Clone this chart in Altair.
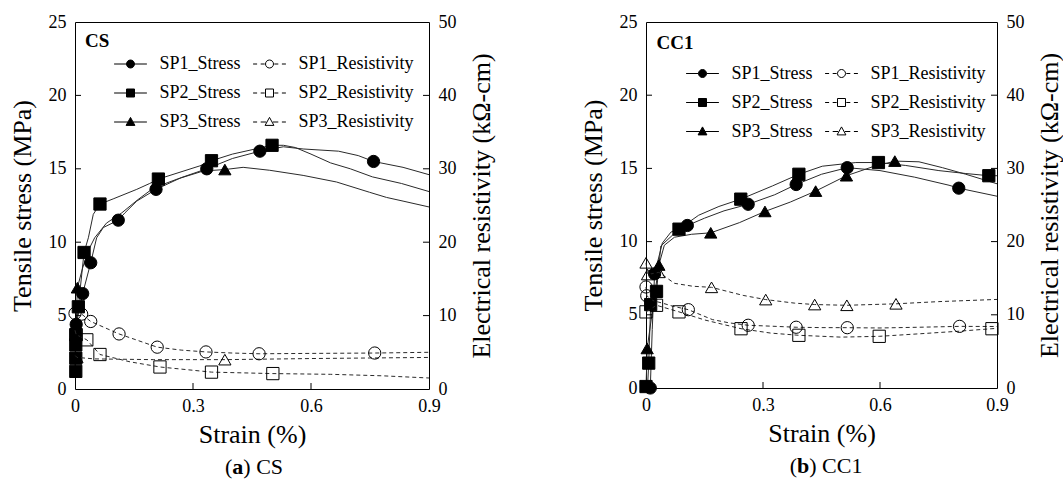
import altair as alt
import pandas as pd

FONT = "Liberation Serif"

# ---------------- axis ticks ----------------
strain_ticks = [0, 0.3, 0.6, 0.9]
stress_ticks = [0, 5, 10, 15, 20, 25]
res_ticks = [0, 10, 20, 30, 40, 50]
inner_strain_ticks = [0.3, 0.6]
inner_stress_ticks = [5, 10, 15, 20]
inner_res_ticks = [10, 20, 30, 40]

# legend entries (column-major: stress column, then resistivity column)
series_names = ["SP1_Stress", "SP2_Stress", "SP3_Stress",
                "SP1_Resistivity", "SP2_Resistivity", "SP3_Resistivity"]

# ---------------- panel (a) CS ----------------
cs_sp1_stress_x = [0, 0.003, 0.0195, 0.040, 0.055, 0.072, 0.110, 0.127, 0.157, 0.206, 0.27, 0.335, 0.40, 0.47, 0.53, 0.58, 0.67, 0.72, 0.759, 0.834, 0.9]
cs_sp1_stress_y = [1.0, 4.4, 6.5, 8.6, 10.3, 11.0, 11.5, 12.0, 12.8, 13.6, 14.4, 15.0, 15.7, 16.2, 16.5, 16.35, 16.2, 15.9, 15.5, 15.1, 14.6]
cs_sp1_stress_mx = [0.003, 0.0195, 0.040, 0.110, 0.206, 0.335, 0.47, 0.759]
cs_sp1_stress_my = [4.4, 6.5, 8.6, 11.5, 13.6, 15.0, 16.2, 15.5]

cs_sp2_stress_x = [0, 0.001, 0.002, 0.0085, 0.023, 0.034, 0.0465, 0.0635, 0.097, 0.157, 0.19, 0.212, 0.3175, 0.347, 0.40, 0.45, 0.501, 0.53, 0.56, 0.60, 0.65, 0.70, 0.756, 0.83, 0.9]
cs_sp2_stress_y = [1.0, 2.2, 4.0, 5.6, 9.3, 10.3, 11.9, 12.6, 12.95, 13.6, 14.0, 14.3, 15.2, 15.55, 16.0, 16.3, 16.6, 16.6, 16.45, 16.0, 15.4, 15.0, 14.45, 14.0, 13.45]
cs_sp2_stress_mx = [0.002, 0.002, 0.002, 0.002, 0.0085, 0.023, 0.0635, 0.212, 0.347, 0.501]
cs_sp2_stress_my = [1.2, 2.1, 3.0, 3.7, 5.6, 9.3, 12.6, 14.3, 15.55, 16.6]

cs_sp3_stress_x = [0, 0.006, 0.02, 0.035, 0.05, 0.08, 0.119, 0.16, 0.2, 0.26, 0.326, 0.381, 0.4275, 0.495, 0.58, 0.665, 0.749, 0.792, 0.834, 0.9]
cs_sp3_stress_y = [2.0, 6.9, 8.3, 9.5, 10.3, 11.3, 12.0, 12.9, 13.7, 14.3, 14.85, 14.95, 15.1, 14.9, 14.55, 14.1, 13.4, 13.05, 12.8, 12.4]
cs_sp3_stress_mx = [0.006, 0.381]
cs_sp3_stress_my = [6.9, 14.95]

cs_sp1_res_x = [0, 0.017, 0.040, 0.112, 0.209, 0.27, 0.333, 0.40, 0.468, 0.6, 0.762, 0.9]
cs_sp1_res_y = [10.3, 10.2, 9.2, 7.5, 5.7, 5.3, 5.05, 4.9, 4.8, 4.85, 4.9, 5.0]
cs_sp1_res_mx = [0, 0.017, 0.040, 0.112, 0.209, 0.333, 0.468, 0.762]
cs_sp1_res_my = [10.3, 10.2, 9.2, 7.5, 5.7, 5.05, 4.8, 4.9]

cs_sp2_res_x = [0, 0.003, 0.030, 0.0635, 0.14, 0.216, 0.347, 0.503, 0.65, 0.78, 0.9]
cs_sp2_res_y = [8.0, 7.4, 6.7, 4.7, 3.7, 3.0, 2.3, 2.1, 2.0, 1.8, 1.5]
cs_sp2_res_mx = [0.003, 0.030, 0.0635, 0.216, 0.347, 0.503]
cs_sp2_res_my = [7.4, 6.7, 4.7, 3.0, 2.3, 2.1]

cs_sp3_res_x = [0, 0.005, 0.05, 0.2, 0.381, 0.6, 0.9]
cs_sp3_res_y = [4.6, 4.3, 4.1, 4.0, 4.0, 4.15, 4.3]
cs_sp3_res_mx = [0.005, 0.381]
cs_sp3_res_my = [4.3, 4.0]

# ---------------- panel (b) CC1 ----------------
cc_sp1_stress_x = [0, 0.011, 0.016, 0.022, 0.042, 0.064, 0.106, 0.15, 0.2, 0.262, 0.33, 0.385, 0.45, 0.516, 0.6, 0.689, 0.777, 0.802, 0.9]
cc_sp1_stress_y = [0, 0, 4.0, 7.8, 9.9, 10.65, 11.1, 11.6, 12.1, 12.55, 13.2, 13.9, 14.6, 15.05, 14.85, 14.4, 13.85, 13.65, 13.1]
cc_sp1_stress_mx = [0.011, 0.022, 0.106, 0.262, 0.385, 0.516, 0.802]
cc_sp1_stress_my = [0, 7.8, 11.1, 12.55, 13.9, 15.05, 13.65]

cc_sp2_stress_x = [0, 0.004, 0.007, 0.012, 0.027, 0.038, 0.0846, 0.135, 0.187, 0.243, 0.324, 0.392, 0.452, 0.538, 0.596, 0.666, 0.751, 0.82, 0.879, 0.9]
cc_sp2_stress_y = [0, 0.1, 1.7, 5.7, 6.6, 9.7, 10.85, 11.8, 12.4, 12.9, 13.8, 14.6, 15.15, 15.4, 15.4, 15.2, 14.85, 14.65, 14.5, 14.5]
cc_sp2_stress_mx = [0.0, 0.007, 0.012, 0.027, 0.0846, 0.243, 0.392, 0.596, 0.879]
cc_sp2_stress_my = [0.1, 1.7, 5.7, 6.6, 10.85, 12.9, 14.6, 15.4, 14.5]

cc_sp3_stress_x = [0, 0.003, 0.033, 0.047, 0.073, 0.117, 0.166, 0.24, 0.305, 0.37, 0.435, 0.514, 0.58, 0.638, 0.7, 0.76, 0.82, 0.9]
cc_sp3_stress_y = [0, 2.7, 8.4, 9.75, 10.3, 10.5, 10.6, 11.3, 12.06, 12.7, 13.45, 14.5, 15.1, 15.5, 15.45, 15.05, 14.6, 13.95]
cc_sp3_stress_mx = [0.003, 0.033, 0.166, 0.305, 0.435, 0.514, 0.638]
cc_sp3_stress_my = [2.7, 8.4, 10.6, 12.06, 13.45, 14.5, 15.5]

cc_sp1_res_x = [0, 0.002, 0.02, 0.042, 0.067, 0.1085, 0.17, 0.213, 0.262, 0.324, 0.385, 0.45, 0.516, 0.6, 0.7, 0.804, 0.9]
cc_sp1_res_y = [13.8, 12.6, 11.9, 11.6, 11.2, 10.7, 9.35, 8.9, 8.57, 8.44, 8.3, 8.25, 8.24, 8.2, 8.3, 8.42, 8.4]
cc_sp1_res_mx = [0, 0.002, 0.1085, 0.262, 0.385, 0.516, 0.804]
cc_sp1_res_my = [13.8, 12.6, 10.7, 8.57, 8.3, 8.24, 8.42]

cc_sp2_res_x = [0, 0.027, 0.0846, 0.15, 0.2436, 0.32, 0.392, 0.5, 0.598, 0.7, 0.8, 0.887, 0.9]
cc_sp2_res_y = [10.4, 11.3, 10.4, 9.3, 8.1, 7.5, 7.2, 6.95, 7.06, 7.4, 7.75, 8.1, 8.15]
cc_sp2_res_mx = [0, 0.027, 0.0846, 0.2436, 0.392, 0.598, 0.887]
cc_sp2_res_my = [10.4, 11.3, 10.4, 8.1, 7.2, 7.06, 8.1]

cc_sp3_res_x = [0, 0.004, 0.033, 0.073, 0.12, 0.168, 0.249, 0.307, 0.38, 0.4325, 0.515, 0.641, 0.75, 0.9]
cc_sp3_res_y = [17.1, 15.5, 15.8, 14.3, 13.9, 13.75, 12.65, 12.08, 11.6, 11.4, 11.3, 11.5, 11.8, 12.1]
cc_sp3_res_mx = [0, 0.004, 0.033, 0.168, 0.307, 0.4325, 0.515, 0.641]
cc_sp3_res_my = [17.1, 15.5, 15.8, 13.75, 12.08, 11.4, 11.3, 11.5]


def frame(parts):
    rows = []
    for spec, xs, ys in parts:
        for i, (x, y) in enumerate(zip(xs, ys)):
            rows.append({"spec": spec, "i": i, "strain": x, "value": y})
    return pd.DataFrame(rows)


# legend symbols: short line + marker, in unit coordinates
def seg_path(dashed, inner):
    if dashed:
        return (f"M-4.1,0L-3.1,0M-2.2,0L-{inner + 0.2},0"
                f"M{inner + 0.2},0L2.2,0M3.1,0L4.1,0")
    return f"M-4.1,0L-{inner},0M{inner},0L4.1,0"


CIRCLE = "M-1,0A1,1,0,1,1,1,0A1,1,0,1,1,-1,0Z"
SQUARE = "M-1,-1L1,-1L1,1L-1,1Z"
TRIANGLE = "M0,-1.15L1.1,0.85L-1.1,0.85Z"
legend_paths = [
    seg_path(False, 1) + CIRCLE, seg_path(False, 1) + SQUARE,
    seg_path(False, 0.63) + TRIANGLE,
    seg_path(True, 1) + CIRCLE, seg_path(True, 1) + SQUARE,
    seg_path(True, 0.63) + TRIANGLE,
]
legend_fills = ["black", "black", "black", "white", "white", "white"]
legend_strokes = ["black"] * 6

SHAPES = {"SP1": "circle", "SP2": "square", "SP3": "triangle-up"}


def panel(stress_l, stress_m, res_l, res_m, tag, letter, rest, w, h,
          legx, legy, tagx, tagy, cap_center, letter_w, total_w):
    x_scale = alt.Scale(domain=[0, 0.9], nice=False, zero=False)
    s_scale = alt.Scale(domain=[0, 25], nice=False)
    r_scale = alt.Scale(domain=[0, 50], nice=False)

    axis_common = dict(ticks=False, tickSize=0, domain=False, grid=False,
                       labelFont=FONT, labelFontSize=18, labelColor="black",
                       titleFont=FONT, titleFontSize=26, titleFontWeight="normal",
                       titleColor="black", labelFlush=False)

    x_axis = alt.Axis(values=strain_ticks, format="~g", title="Strain (%)",
                      labelPadding=8, titlePadding=6, **axis_common)
    s_axis = alt.Axis(values=stress_ticks, title="Tensile stress (MPa)",
                      labelPadding=9, titlePadding=13, **axis_common)
    r_axis = alt.Axis(values=res_ticks, title="Electrical resistivity (kΩ-cm)",
                      orient="right", titleAngle=270, titleBaseline="top",
                      labelPadding=9, titlePadding=12, **axis_common)

    X = lambda f: alt.X(f, scale=x_scale, axis=x_axis)
    YS = lambda f: alt.Y(f, scale=s_scale, axis=s_axis)
    YR = lambda f: alt.Y(f, scale=r_scale, axis=r_axis)

    s_line = alt.Chart(stress_l).mark_line(color="#2a2a2a", strokeWidth=1).encode(
        x=X("strain:Q"), y=YS("value:Q"), detail="spec:N", order="i:Q")
    s_pts = []
    for sp, shp in SHAPES.items():
        s_pts.append(alt.Chart(stress_m).transform_filter(alt.datum.spec == sp).mark_point(
            shape=shp, filled=True, fill="black", stroke="black", strokeWidth=1,
            size=150, opacity=1).encode(x=X("strain:Q"), y=YS("value:Q")))
    x_ticks = alt.Chart(pd.DataFrame({"strain": inner_strain_ticks})).mark_rule(
        color="black", strokeWidth=1).encode(
        x=X("strain:Q"), y=alt.value(h), y2=alt.value(h - 6))
    s_ticks = alt.Chart(pd.DataFrame({"value": inner_stress_ticks})).mark_rule(
        color="black", strokeWidth=1).encode(
        y=YS("value:Q"), x=alt.value(0), x2=alt.value(6))
    stress_layer = alt.layer(s_line, *s_pts, x_ticks, s_ticks)

    r_line = alt.Chart(res_l).mark_line(color="#2a2a2a", strokeWidth=1,
                                        strokeDash=[4, 3]).encode(
        x=X("strain:Q"), y=YR("value:Q"), detail="spec:N", order="i:Q")
    r_pts = []
    for sp, shp in SHAPES.items():
        r_pts.append(alt.Chart(res_m).transform_filter(alt.datum.spec == sp).mark_point(
            shape=shp, filled=False, stroke="black", strokeWidth=1,
            size=150, opacity=1).encode(x=X("strain:Q"), y=YR("value:Q")))
    r_ticks = alt.Chart(pd.DataFrame({"value": inner_res_ticks})).mark_rule(
        color="black", strokeWidth=1).encode(
        y=YR("value:Q"), x=alt.value(w - 6), x2=alt.value(w))
    res_layer = alt.layer(r_line, *r_pts, r_ticks)

    leg = alt.Legend(orient="none", legendX=legx, legendY=legy, columns=2,
                     title=None, labelFont=FONT, labelFontSize=18,
                     labelColor="black", symbolSize=64, symbolStrokeWidth=1,
                     symbolStrokeColor="black", symbolOpacity=1,
                     symbolOffset=12.5, labelOffset=20, columnPadding=7,
                     rowPadding=11, padding=0)
    legend_layer = alt.Chart(pd.DataFrame({"series": series_names})).transform_filter(
        "false").mark_point(filled=True, strokeWidth=1, opacity=1).encode(
        shape=alt.Shape("series:N", scale=alt.Scale(domain=series_names, range=legend_paths), legend=leg),
        fill=alt.Fill("series:N", scale=alt.Scale(domain=series_names, range=legend_fills), legend=leg),
        stroke=alt.Stroke("series:N", scale=alt.Scale(domain=series_names, range=legend_strokes), legend=leg))

    tag_layer = alt.Chart(pd.DataFrame({"t": [tag]})).mark_text(
        font=FONT, fontSize=19, fontWeight="bold", align="left",
        baseline="alphabetic", color="black").encode(
        text="t:N", x=alt.value(tagx), y=alt.value(tagy))

    start = cap_center - total_w / 2
    p_open = 0.333 * 22
    cap1 = alt.Chart(pd.DataFrame({"t": ["("]})).mark_text(
        font=FONT, fontSize=22, align="left", baseline="alphabetic",
        color="black").encode(text="t:N", x=alt.value(start), y=alt.value(h + 85))
    cap2 = alt.Chart(pd.DataFrame({"t": [letter]})).mark_text(
        font=FONT, fontSize=22, fontWeight="bold", align="left",
        baseline="alphabetic", color="black").encode(
        text="t:N", x=alt.value(start + p_open), y=alt.value(h + 85))
    cap3 = alt.Chart(pd.DataFrame({"t": [rest]})).mark_text(
        font=FONT, fontSize=22, align="left", baseline="alphabetic",
        color="black").encode(
        text="t:N", x=alt.value(start + p_open + letter_w), y=alt.value(h + 85))

    return alt.layer(stress_layer, res_layer, legend_layer, tag_layer,
                     cap1, cap2, cap3).resolve_scale(y="independent").properties(
        width=w, height=h)


cs = panel(
    frame([("SP1", cs_sp1_stress_x, cs_sp1_stress_y), ("SP2", cs_sp2_stress_x, cs_sp2_stress_y), ("SP3", cs_sp3_stress_x, cs_sp3_stress_y)]),
    frame([("SP1", cs_sp1_stress_mx, cs_sp1_stress_my), ("SP2", cs_sp2_stress_mx, cs_sp2_stress_my), ("SP3", cs_sp3_stress_mx, cs_sp3_stress_my)]),
    frame([("SP1", cs_sp1_res_x, cs_sp1_res_y), ("SP2", cs_sp2_res_x, cs_sp2_res_y), ("SP3", cs_sp3_res_x, cs_sp3_res_y)]),
    frame([("SP1", cs_sp1_res_mx, cs_sp1_res_my), ("SP2", cs_sp2_res_mx, cs_sp2_res_my), ("SP3", cs_sp3_res_mx, cs_sp3_res_my)]),
    "CS", "a", ") CS", 354, 367, 34, 33, 10, 25, 179, 0.5 * 22, 58)

cc = panel(
    frame([("SP1", cc_sp1_stress_x, cc_sp1_stress_y), ("SP2", cc_sp2_stress_x, cc_sp2_stress_y), ("SP3", cc_sp3_stress_x, cc_sp3_stress_y)]),
    frame([("SP1", cc_sp1_stress_mx, cc_sp1_stress_my), ("SP2", cc_sp2_stress_mx, cc_sp2_stress_my), ("SP3", cc_sp3_stress_mx, cc_sp3_stress_my)]),
    frame([("SP1", cc_sp1_res_x, cc_sp1_res_y), ("SP2", cc_sp2_res_x, cc_sp2_res_y), ("SP3", cc_sp3_res_x, cc_sp3_res_y)]),
    frame([("SP1", cc_sp1_res_mx, cc_sp1_res_my), ("SP2", cc_sp2_res_mx, cc_sp2_res_my), ("SP3", cc_sp3_res_mx, cc_sp3_res_my)]),
    "CC1", "b", ") CC1", 351, 366, 35, 42.5, 10.5, 27, 180, 0.556 * 22, 72.6)

chart = alt.hconcat(cs, cc, spacing=84).resolve_scale(
    shape="independent", fill="independent", stroke="independent").resolve_legend(
    shape="independent", fill="independent", stroke="independent").configure(
    font=FONT, padding={"left": 8, "top": 12, "right": 0, "bottom": 0},
    background="white").configure_view(
    stroke="black", strokeWidth=1).configure_axis(
    labelFont=FONT, titleFont=FONT).configure_legend(labelFont=FONT, titleFont=FONT)

chart.save("out.html", embed_options={"renderer": "svg", "actions": False})
